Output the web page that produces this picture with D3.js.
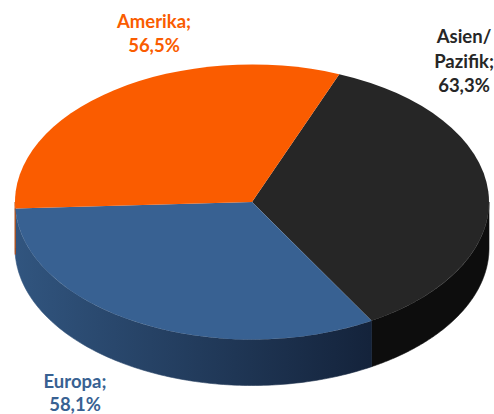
<!DOCTYPE html>
<html>
<head>
<meta charset="utf-8">
<script src="https://cdn.jsdelivr.net/npm/d3@7"></script>
<style>
html,body{margin:0;padding:0;background:#fff}
svg{display:block}
text{font-family:Lato,"Open Sans",sans-serif;font-weight:700;font-size:18.5px;text-anchor:middle}
</style>
</head>
<body>
<svg id="chart" width="494" height="414"></svg>
<script>
const regions = ["Asien/Pazifik", "Europa", "Amerika"];
const shares = [63.3, 58.1, 56.5];
const topColors = ["#262626", "#386192", "#fa5c00"];
const labelLines = [["Asien/", "Pazifik;", "63,3%"], ["Europa;", "58,1%"], ["Amerika;", "56,5%"]];
const labelColors = ["#262626", "#386192", "#fa5c00"];
const labelSpots = [[464, 43], [75, 388], [154, 28]];
const lineGaps = [24.5, 22.5, 24];

const rx = 237, ry = 137.5, cx = 252, cy = 202, depth = 46;
const firstAngle = 21.6 * Math.PI / 180;
const svg = d3.select("#chart");

const defs = svg.append("defs");
const blueWall = defs.append("linearGradient").attr("id", "wall-blue")
  .attr("gradientUnits", "userSpaceOnUse")
  .attr("x1", cx - rx).attr("x2", cx + rx * 0.5).attr("y1", 0).attr("y2", 0);
blueWall.append("stop").attr("offset", 0).attr("stop-color", "#31557f");
blueWall.append("stop").attr("offset", 1).attr("stop-color", "#14233b");
const wallFills = ["#0d0d0d", "url(#wall-blue)", "#c84a00"];

const pie = d3.pie().sort(null)
  .startAngle(firstAngle).endAngle(firstAngle + 2 * Math.PI);
const slices = pie(shares);

const pointAt = (a, dy) => [cx + rx * Math.sin(a), cy - ry * Math.cos(a) + dy];

// Cylinder wall: only the part of each slice on the viewer's side (90° to 270°).
const ringPath = d3.line();
const wall = svg.append("g");
slices.forEach((s, i) => {
  const from = Math.max(s.startAngle, Math.PI / 2);
  const to = Math.min(s.endAngle, 3 * Math.PI / 2);
  if (to <= from) return;
  const angles = d3.range(0, 121).map(k => from + (to - from) * k / 120);
  const outline = angles.map(a => pointAt(a, 0))
    .concat(angles.slice().reverse().map(a => pointAt(a, depth)));
  wall.append("path")
    .attr("d", ringPath(outline) + "Z")
    .attr("fill", wallFills[i])
    .attr("stroke", wallFills[i])
    .attr("stroke-width", 0.6);
});

// Top face: a flat pie squashed into an ellipse.
const arc = d3.arc().innerRadius(0).outerRadius(rx);
svg.append("g")
  .attr("transform", `translate(${cx},${cy}) scale(1,${ry / rx})`)
  .selectAll("path").data(slices).join("path")
  .attr("d", arc)
  .attr("fill", (d, i) => topColors[i]);

// Labels
svg.append("g").selectAll("text").data(regions).join("text")
  .attr("fill", (d, i) => labelColors[i])
  .attr("transform", (d, i) => `translate(${labelSpots[i][0]},${labelSpots[i][1]})`)
  .each(function (d, i) {
    d3.select(this).selectAll("tspan").data(labelLines[i]).join("tspan")
      .attr("x", 0).attr("y", (l, j) => j * lineGaps[i]).text(l => l);
  });
</script>
</body>
</html>
